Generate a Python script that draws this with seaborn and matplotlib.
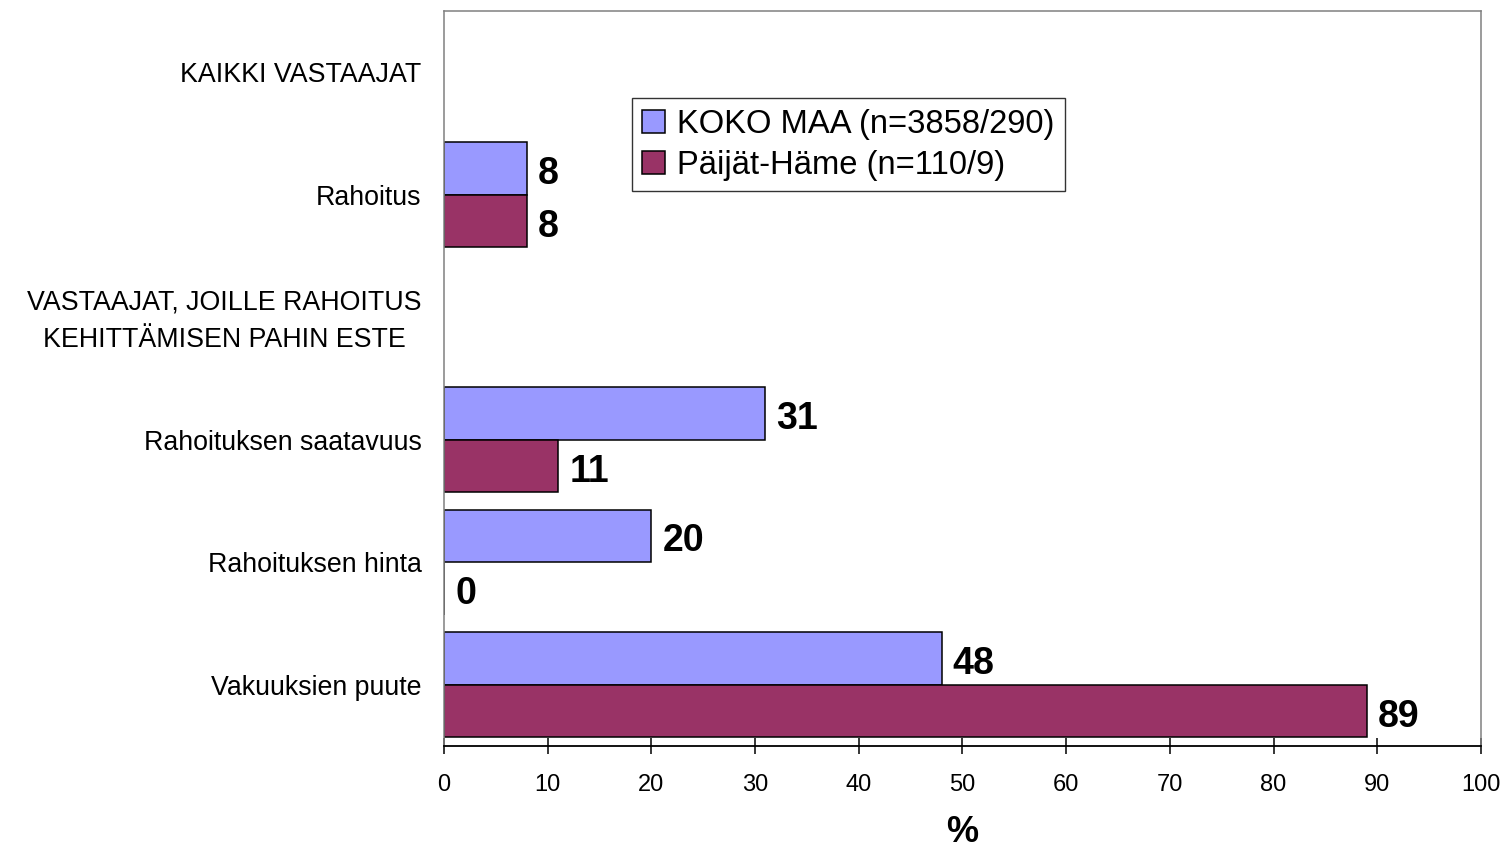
import matplotlib
matplotlib.use("Agg")
import matplotlib.pyplot as plt
import matplotlib.transforms as mtransforms
import seaborn as sns
import pandas as pd

categories = ["KAIKKI VASTAAJAT", "Rahoitus",
              "VASTAAJAT, JOILLE RAHOITUS\nKEHITTÄMISEN PAHIN ESTE",
              "Rahoituksen saatavuus", "Rahoituksen hinta", "Vakuuksien puute"]
series_names = ["KOKO MAA (n=3858/290)", "Päijät-Häme (n=110/9)"]
data_categories = ["Rahoitus", "Rahoituksen saatavuus", "Rahoituksen hinta", "Vakuuksien puute"]
koko_maa = [8, 31, 20, 48]
paijat_hame = [8, 11, 0, 89]
colors = ["#9999FF", "#993366"]
xticks = list(range(0, 101, 10))

rows = []
for c, v in zip(data_categories, koko_maa):
    rows.append({"cat": c, "series": series_names[0], "val": v})
for c, v in zip(data_categories, paijat_hame):
    rows.append({"cat": c, "series": series_names[1], "val": v})
df = pd.DataFrame(rows)

sns.set_theme(style="white")
plt.rcParams["font.family"] = ["Liberation Sans", "DejaVu Sans"]
for k in ["text.color", "axes.labelcolor", "xtick.color", "ytick.color"]:
    plt.rcParams[k] = "black"

fig = plt.figure(figsize=(15.06, 8.52), dpi=100)
ax = fig.add_axes([0.2948, 0.1244, 0.6886, 0.8627])

sns.barplot(data=df, y="cat", x="val", hue="series", order=categories,
            hue_order=series_names, palette=colors, orient="h", width=0.86,
            edgecolor="black", linewidth=1.1, saturation=1, ax=ax, errorbar=None)

for cont in ax.containers:
    anns = ax.bar_label(cont, fmt="%g", padding=8, fontsize=27, fontweight="bold")
    for a in anns:
        a.xyann = (8, -4)

ax.set_xlim(0, 100)
ax.set_xticks(xticks)
ax.set_xlabel("%", fontsize=26, fontweight="bold", labelpad=14)
ax.set_ylabel("")
ax.tick_params(axis="x", direction="inout", length=12, width=1.1, color="black",
               labelsize=17, pad=14, bottom=True)
ax.tick_params(axis="y", length=0, labelsize=19.3, pad=16)
shift = mtransforms.ScaledTranslation(0, 5 / 100, fig.dpi_scale_trans)
for lbl in ax.get_yticklabels():
    lbl.set_multialignment("center")
    lbl.set_linespacing(1.6)
    if "\n" in lbl.get_text():
        lbl.set_transform(lbl.get_transform() + shift)

for s in ["left", "top", "right"]:
    ax.spines[s].set_color("#808080")
    ax.spines[s].set_linewidth(1.1)
ax.spines["bottom"].set_color("black")
ax.spines["bottom"].set_linewidth(1.3)

leg = ax.legend(loc="upper left", bbox_to_anchor=(0.181, 0.8816), fontsize=23.6,
                frameon=True, fancybox=False, edgecolor="black", handlelength=0.7,
                handleheight=0.7, handletextpad=0.35, borderpad=0.33, labelspacing=0.3,
                borderaxespad=0)
leg.get_frame().set_linewidth(1.0)
leg.set_title(None)

fig.savefig("out.png", dpi=100)
